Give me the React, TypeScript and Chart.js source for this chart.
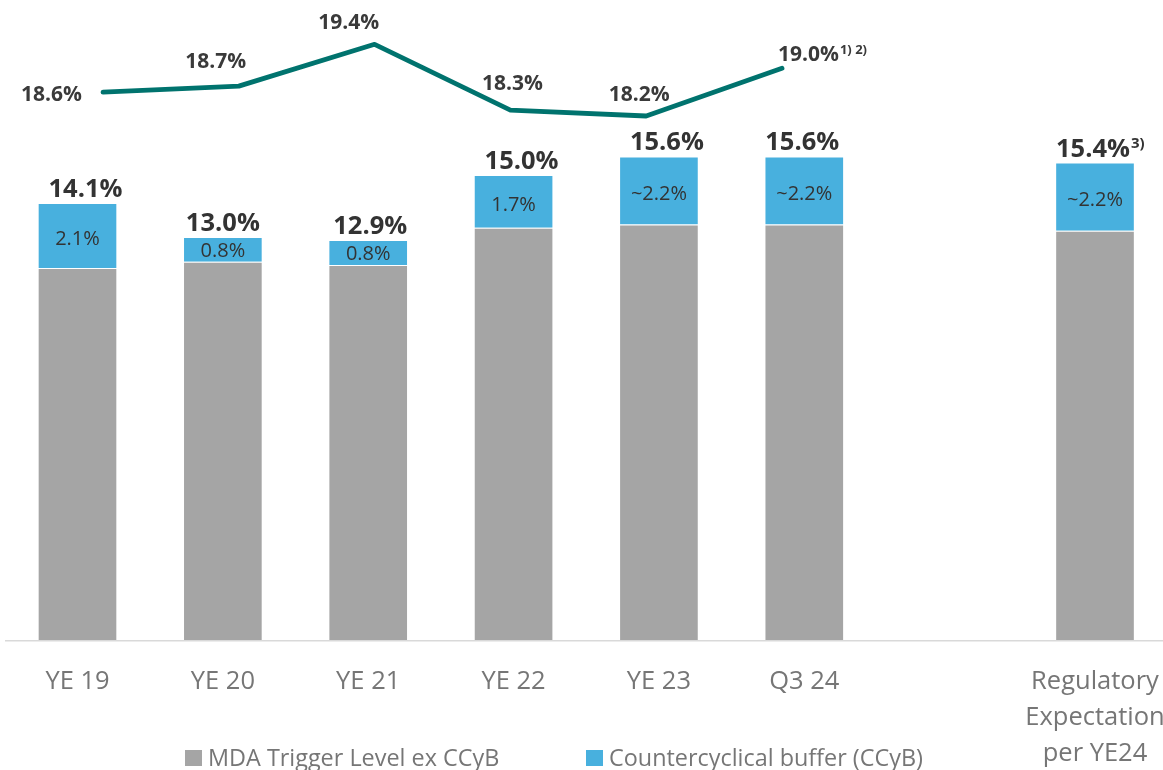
import React, { useEffect, useRef } from "react";
import { Chart, registerables } from "chart.js";

Chart.register(...registerables);

// ---------- data ----------
const categories: (string | string[])[] = [
  "YE 19",
  "YE 20",
  "YE 21",
  "YE 22",
  "YE 23",
  "Q3 24",
  "",
  ["Regulatory", "Expectation", "per YE24"],
];
const mdaTrigger: (number | null)[] = [12.0, 12.2, 12.1, 13.3, 13.4, 13.4, null, 13.2];
const ccyb: (number | null)[] = [2.1, 0.8, 0.8, 1.7, 2.2, 2.2, null, 2.2];
const ccybLabels = ["2.1%", "0.8%", "0.8%", "1.7%", "~2.2%", "~2.2%", "", "~2.2%"];
const totalLabels = ["14.1%", "13.0%", "12.9%", "15.0%", "15.6%", "15.6%", "", "15.4%"];
const totalNotes = ["", "", "", "", "", "", "", "3)"];
const cet1Ratio = [18.6, 18.7, 19.4, 18.3, 18.2, 19.0];
const cet1Labels = ["18.6%", "18.7%", "19.4%", "18.3%", "18.2%", "19.0%"];
const cet1Notes = ["", "", "", "", "", "1) 2)"];
const legendLabels = ["MDA Trigger Level ex CCyB", "Countercyclical buffer (CCyB)"];

// ---------- styles ----------
const FONT = "'Open Sans', 'Noto Sans', sans-serif";
const GRAY = "#A5A5A5";
const BLUE = "#48B0DE";
const TEAL = "#00736E";
const TEXT_DARK = "#333333";
const TEXT_GRAY = "#767676";

// horizontal nudge of the bold total labels (as placed in the original)
const totalLabelDx = [8, 0, 2, 8, 8, -2, 0, -2];
// label placement relative to each line point: [dx, dy, align]
const lineLabelPlacement: [number, number, CanvasTextAlign][] = [
  [-21, 8.5, "right"],
  [-23, -17.7, "center"],
  [-26, -15, "center"],
  [2, -20, "center"],
  [-7, -15, "center"],
  [-4, -7, "left"],
];

const labelPlugin = {
  id: "customLabels",
  beforeDatasetsDraw(chart: any) {
    const ctx: CanvasRenderingContext2D = chart.ctx;
    const y0 = chart.scales.y.getPixelForValue(0);
    ctx.save();
    ctx.strokeStyle = "#D9D9D9";
    ctx.lineWidth = 1.5;
    ctx.beginPath();
    ctx.moveTo(5, y0 + 0.75);
    ctx.lineTo(chart.width, y0 + 0.75);
    ctx.stroke();
    ctx.restore();
  },
  afterDatasetsDraw(chart: any) {
    const ctx: CanvasRenderingContext2D = chart.ctx;
    const ccybMeta = chart.getDatasetMeta(1);
    const lineMeta = chart.getDatasetMeta(2);
    ctx.save();
    ccybMeta.data.forEach((bar: any, i: number) => {
      if (ccyb[i] == null) return;
      const { x, y, base } = bar.getProps(["x", "y", "base"], true);
      ctx.fillStyle = TEXT_DARK;
      ctx.textAlign = "center";
      ctx.textBaseline = "middle";
      ctx.font = `400 20px ${FONT}`;
      const h = base - y;
      ctx.fillText(ccybLabels[i], x, (y + base) / 2 + (h > 40 ? 3.5 : 1.5));

      ctx.textBaseline = "alphabetic";
      ctx.font = `700 25.5px ${FONT}`;
      const tx = x + totalLabelDx[i];
      ctx.fillText(totalLabels[i], tx, y - 6);
      if (totalNotes[i]) {
        const w = ctx.measureText(totalLabels[i]).width;
        ctx.font = `700 15px ${FONT}`;
        ctx.textAlign = "left";
        ctx.fillText(totalNotes[i], tx + w / 2 + 1, y - 15);
      }
    });
    lineMeta.data.forEach((pt: any, i: number) => {
      const { x, y } = pt.getProps(["x", "y"], true);
      const [dx, dy, align] = lineLabelPlacement[i];
      ctx.fillStyle = "#3A3A3A";
      ctx.textAlign = align;
      ctx.textBaseline = "alphabetic";
      ctx.font = `700 21px ${FONT}`;
      ctx.fillText(cet1Labels[i], x + dx, y + dy);
      if (cet1Notes[i]) {
        const w = ctx.measureText(cet1Labels[i]).width;
        const startX = align === "left" ? x + dx + w : align === "center" ? x + dx + w / 2 : x + dx;
        ctx.font = `700 13px ${FONT}`;
        ctx.textAlign = "left";
        ctx.fillText(cet1Notes[i], startX + 1, y + dy - 7);
      }
    });
    ctx.restore();
  },
  afterDraw(chart: any) {
    const ctx: CanvasRenderingContext2D = chart.ctx;
    const items = [
      { x: 185, color: GRAY, label: legendLabels[0] },
      { x: 586, color: BLUE, label: legendLabels[1] },
    ];
    ctx.save();
    items.forEach((it) => {
      ctx.fillStyle = it.color;
      ctx.fillRect(it.x, 750, 17, 16);
      ctx.fillStyle = TEXT_GRAY;
      ctx.font = `400 23.4px ${FONT}`;
      ctx.textAlign = "left";
      ctx.textBaseline = "alphabetic";
      ctx.fillText(it.label, it.x + 23, 766);
    });
    ctx.restore();
  },
};

export default function App() {
  const canvasRef = useRef<HTMLCanvasElement | null>(null);

  useEffect(() => {
    document.body.style.margin = "0";
    document.body.style.overflow = "hidden";
    const canvas = canvasRef.current;
    if (!canvas) return;
    const barCommon = {
      type: "bar" as const,
      borderColor: "rgba(255,255,255,0.35)",
      borderWidth: 1,
      barPercentage: 0.548,
      categoryPercentage: 1,
      grouped: false,
      stack: "s",
      clip: false as const,
      xAxisID: "x",
      yAxisID: "y",
      order: 2,
    };
    const chart = new Chart(canvas, {
      type: "bar",
      data: {
        labels: categories as any,
        datasets: [
          {
            ...barCommon,
            label: legendLabels[0],
            data: mdaTrigger as any,
            backgroundColor: GRAY,
          },
          {
            ...barCommon,
            label: legendLabels[1],
            data: ccyb as any,
            backgroundColor: BLUE,
          },
          {
            type: "line",
            label: "CET1 ratio",
            data: cet1Ratio.map((v, i) => ({ x: i, y: v })) as any,
            borderColor: TEAL,
            borderWidth: 4.8,
            pointRadius: 0,
            borderCapStyle: "round",
            borderJoinStyle: "round",
            tension: 0,
            clip: false,
            xAxisID: "x2",
            yAxisID: "y2",
            order: 1,
          } as any,
        ],
      },
      options: {
        responsive: true,
        maintainAspectRatio: false,
        animation: false,
        layout: { padding: { left: 77.5, right: 68, top: 20, bottom: 0 } },
        plugins: {
          legend: { display: false },
          tooltip: { enabled: false },
        },
        scales: {
          x: {
            type: "category",
            stacked: true,
            offset: false,
            grid: { display: false, drawTicks: false, offset: false },
            border: { display: false },
            ticks: {
              color: TEXT_GRAY,
              font: { family: FONT, size: 25.5, lineHeight: 1.41 },
              padding: 24,
              maxRotation: 0,
              autoSkip: false,
            },
            afterFit(scale: any) {
              scale.height = 130;
              scale.paddingLeft = 0;
              scale.paddingRight = 0;
            },
          },
          x2: {
            type: "linear",
            display: false,
            offset: false,
            bounds: "data",
            grid: { offset: false },
            min: -0.18778,
            max: 7.3048,
          },
          y: {
            type: "linear",
            stacked: true,
            display: false,
            min: 0,
            max: 20,
          },
          y2: {
            type: "linear",
            display: false,
            min: 9.43,
            max: 19.807,
          },
        },
      },
      plugins: [labelPlugin],
    });
    return () => chart.destroy();
  }, []);

  return (
    <div style={{ position: "relative", width: 1163, height: 770 }}>
      <canvas ref={canvasRef} />
    </div>
  );
}
